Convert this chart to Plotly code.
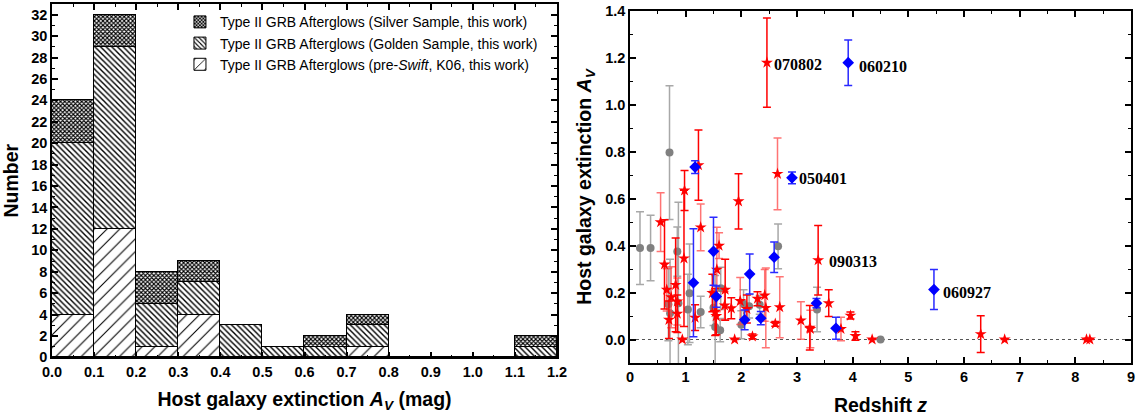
import plotly.graph_objects as go

# ---------------- Left panel: stacked histogram ----------------
bin_left = [0.0, 0.1, 0.2, 0.3, 0.4, 0.5, 0.6, 0.7, 0.8, 0.9, 1.0, 1.1]
bin_width = 0.1
pre_swift = [4, 12, 1, 4, 0, 0, 0, 1, 0, 0, 0, 0]
golden = [16, 17, 4, 3, 3, 1, 1, 2, 0, 0, 0, 1]
silver = [4, 3, 3, 2, 0, 0, 1, 1, 0, 0, 0, 1]

name_silver = "Type II GRB Afterglows (Silver Sample, this work)"
name_golden = "Type II GRB Afterglows (Golden Sample, this work)"
name_pre = "Type II GRB Afterglows (pre-<i>Swift</i>, K06, this work)"

# ---------------- Right panel: A_V vs redshift ----------------
gray_z = [0.18, 0.37, 0.71, 0.85, 0.69, 0.72, 0.87, 1.04, 1.07, 1.27, 1.50, 1.53, 1.62, 1.63, 2.00, 2.04, 2.14, 2.33, 2.66, 3.36, 4.50]
gray_av = [0.39, 0.39, 0.797, 0.375, 0.150, 0.112, 0.155, 0.128, 0.197, 0.117, 0.135, 0.053, 0.040, 0.218, 0.063, 0.152, 0.142, 0.148, 0.397, 0.128, 0.0]
gray_err = [0.155, 0.14, 0.285, 0.105, 0.155, 0.23, 0.43, 0.15, 0.21, 0.067, 0.075, 0.22, 0.05, 0.09, 0.06, 0.06, 0.05, 0.04, 0.095, 0.095, 0.0]

blue_z = [1.17, 1.14, 1.50, 1.55, 2.06, 2.15, 2.35, 2.59, 2.91, 3.35, 3.70, 3.92, 5.46]
blue_av = [0.735, 0.242, 0.376, 0.183, 0.084, 0.279, 0.091, 0.351, 0.689, 0.155, 0.048, 1.18, 0.213]
blue_err = [0.027, 0.23, 0.145, 0.045, 0.042, 0.085, 0.028, 0.065, 0.025, 0.02, 0.047, 0.097, 0.085]

red_z = [0.62, 0.82, 0.98, 0.97, 1.17, 1.23, 1.48, 1.53, 1.71, 1.82, 1.95, 2.10, 2.20, 2.29, 2.46, 2.61,
         3.23, 3.38, 3.57, 3.96, 4.05, 6.30, 0.70, 0.85, 1.55, 0.94, 1.88, 4.35, 6.73, 8.20, 8.26]
red_av = [0.32, 0.233, 0.635, 0.346, 0.093, 0.743, 0.198, 0.117, 0.212, 0.133, 0.589, 0.13, 0.013, 0.174, 1.18, 0.067,
          0.05, 0.338, 0.155, 0.102, 0.015, 0.023, 0.084, 0.11, 0.10, 0.0, 0.0, 0.0, 0.0, 0.0, 0.0]
red_err = [0.19, 0.2, 0.085, 0.29, 0.055, 0.15, 0.08, 0.1, 0.13, 0.045, 0.118, 0.06, 0.01, 0.03, 0.19, 0.01,
           0.095, 0.148, 0.057, 0.015, 0.018, 0.078, 0.08, 0.08, 0.08, 0.0, 0.0, 0.0, 0.0, 0.0, 0.0]

red_light_z = [0.55, 0.66, 0.74, 0.85, 1.27, 1.56, 1.60, 1.70, 1.98, 2.42, 2.44, 2.65, 2.69, 3.07, 3.24, 3.79]
red_light_av = [0.50, 0.212, 0.18, 0.162, 0.478, 0.298, 0.40, 0.145, 0.164, 0.188, 0.135, 0.706, 0.138, 0.081, 0.045, 0.045]
red_light_err = [0.125, 0.09, 0.13, 0.1, 0.1, 0.18, 0.055, 0.06, 0.1, 0.11, 0.17, 0.153, 0.13, 0.08, 0.08, 0.05]

label_names = ["070802", "060210", "050401", "090313", "060927"]
label_z = [2.55, 4.08, 3.00, 3.54, 5.59]
label_av = [1.17, 1.165, 0.685, 0.333, 0.2]

# ---------------- Figure ----------------
fig = go.Figure()

centers = [b + bin_width / 2 for b in bin_left]
pattern_common = dict(fgcolor="black", bgcolor="white", fillmode="replace")

fig.add_trace(go.Bar(x=centers, y=pre_swift, width=bin_width, name=name_pre,
                     marker=dict(color="white", line=dict(color="black", width=1),
                                 pattern=dict(shape="/", size=9, solidity=0.12, **pattern_common)),
                     xaxis="x", yaxis="y"))
fig.add_trace(go.Bar(x=centers, y=golden, width=bin_width, name=name_golden,
                     marker=dict(color="white", line=dict(color="black", width=1),
                                 pattern=dict(shape="\\", size=4, solidity=0.35, **pattern_common)),
                     xaxis="x", yaxis="y"))
fig.add_trace(go.Bar(x=centers, y=silver, width=bin_width, name=name_silver,
                     marker=dict(color="white", line=dict(color="black", width=1),
                                 pattern=dict(shape="x", size=3, solidity=0.6, **pattern_common)),
                     xaxis="x", yaxis="y"))

fig.add_trace(go.Scatter(x=gray_z, y=gray_av, mode="markers", showlegend=False,
                         marker=dict(symbol="circle", size=8, color="#808080"),
                         error_y=dict(type="data", array=gray_err, color="#a8a8a8", thickness=1.5, width=4),
                         xaxis="x2", yaxis="y2"))
fig.add_trace(go.Scatter(x=red_light_z, y=red_light_av, mode="markers", showlegend=False,
                         marker=dict(symbol="star", size=9, color="#ff0000"),
                         error_y=dict(type="data", array=red_light_err, color="rgba(255,70,70,0.75)", thickness=1.5, width=4),
                         xaxis="x2", yaxis="y2"))
fig.add_trace(go.Scatter(x=red_z, y=red_av, mode="markers", showlegend=False,
                         marker=dict(symbol="star", size=9, color="#ff0000"),
                         error_y=dict(type="data", array=red_err, color="#ff0000", thickness=1.5, width=4),
                         xaxis="x2", yaxis="y2"))
fig.add_trace(go.Scatter(x=blue_z, y=blue_av, mode="markers", showlegend=False,
                         marker=dict(symbol="diamond", size=9, color="#0000ff"),
                         error_y=dict(type="data", array=blue_err, color="#2a2aff", thickness=1.5, width=4),
                         xaxis="x2", yaxis="y2"))

for n, zx, av in zip(label_names, label_z, label_av):
    fig.add_annotation(x=zx, y=av, xref="x2", yref="y2", text=n, showarrow=False,
                       xanchor="left", yanchor="middle",
                       font=dict(family="Liberation Serif, Times New Roman", size=16, color="black", weight="bold"))

fig.add_shape(type="line", xref="x2", yref="y2", x0=0, x1=9, y0=0, y1=0,
              line=dict(color="#555555", width=1.2, dash="dot"), layer="below")

tickfont = dict(family="Liberation Sans, Arial", size=14.5, color="black", weight="bold")
titlefont = dict(family="Liberation Sans, Arial", size=19.5, color="black", weight="bold")
axis_common = dict(showline=True, linecolor="black", linewidth=1.5, mirror="allticks",
                   ticks="inside", ticklen=6, tickwidth=1.5, tickcolor="black",
                   showgrid=False, zeroline=False, tickfont=tickfont, automargin=False)

fig.update_layout(
    template="none",
    width=1139, height=419,
    margin=dict(l=0, r=0, t=0, b=0),
    paper_bgcolor="white", plot_bgcolor="white",
    barmode="stack", bargap=0,
    font=dict(family="Liberation Sans, Arial", color="black"),
    xaxis=dict(domain=[0.0457, 0.489], range=[0, 1.2], dtick=0.1, tick0=0, tickformat=".1f",
               minor=dict(dtick=0.05, ticks="inside", ticklen=3, tickcolor="black", tickwidth=1.2),
               title=dict(text="Host galaxy extinction <i>A</i><sub><i>V</i></sub> (mag)", font=titlefont, standoff=14),
               anchor="y", **axis_common),
    yaxis=dict(domain=[0.147, 0.9905], range=[0, 33], dtick=2, tick0=0,
               minor=dict(dtick=1, ticks="inside", ticklen=3, tickcolor="black", tickwidth=1.2),
               title=dict(text="Number", font=titlefont, standoff=8),
               anchor="x", **axis_common),
    xaxis2=dict(domain=[0.5531, 0.993], range=[0, 9], dtick=1, tick0=0,
                minor=dict(dtick=0.5, ticks="inside", ticklen=3, tickcolor="black", tickwidth=1.2),
                title=dict(text="Redshift <i>z</i>", font=titlefont, standoff=14),
                anchor="y2", **axis_common),
    yaxis2=dict(domain=[0.1337, 0.9737], range=[-0.1, 1.4], dtick=0.2, tick0=0, tickformat=".1f",
                minor=dict(dtick=0.1, ticks="inside", ticklen=3, tickcolor="black", tickwidth=1.2),
                title=dict(text="Host galaxy extinction <i>A<sub>V</sub></i>", font=titlefont, standoff=8),
                anchor="x2", **axis_common),
    legend=dict(x=0.158, y=0.985, xanchor="left", yanchor="top", traceorder="reversed",
                bgcolor="rgba(0,0,0,0)", borderwidth=0, tracegroupgap=0,
                font=dict(family="Liberation Sans, Arial", size=14, color="black")),
    showlegend=True,
)

fig.write_html("out.html")
